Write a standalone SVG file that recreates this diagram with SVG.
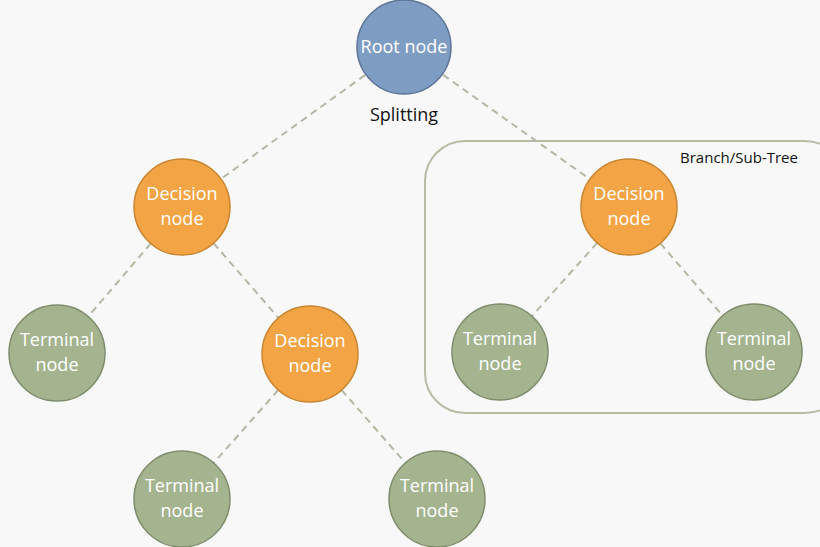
<svg xmlns="http://www.w3.org/2000/svg" width="820" height="547" viewBox="0 0 820 547">
<style>
.bg{fill:#f8f8f8}
.edge{stroke:#b3b9a6;stroke-width:2;stroke-dasharray:7 5;fill:none}
.root{fill:#7f9dc3;stroke:#5d7597;stroke-width:1.5}
.dec{fill:#f3a444;stroke:#c98530;stroke-width:1.5}
.term{fill:#a4b48f;stroke:#7f8d6c;stroke-width:1.5}
.lbl{font-family:"Open Sans","Liberation Sans",sans-serif;font-size:18px;fill:#ffffff;text-anchor:middle}
.txt{font-family:"Open Sans","Liberation Sans",sans-serif;fill:#111111}
</style>
<rect class="bg" x="0" y="0" width="820" height="547"/>
<g id="branch">
<rect x="425" y="141" width="420" height="272" rx="40" ry="40" fill="none" stroke="#b6bca8" stroke-width="2"/>
<text class="txt" x="739" y="163" font-size="15" text-anchor="middle">Branch/Sub-Tree</text>
</g>
<g id="connectors">
<line class="edge" x1="404" y1="47" x2="182" y2="207"/>
<line class="edge" x1="404" y1="47" x2="629" y2="207"/>
<line class="edge" x1="182" y1="207" x2="57" y2="353"/>
<line class="edge" x1="182" y1="207" x2="310" y2="354"/>
<line class="edge" x1="310" y1="354" x2="182" y2="499"/>
<line class="edge" x1="310" y1="354" x2="437" y2="499"/>
<line class="edge" x1="629" y1="207" x2="500" y2="352"/>
<line class="edge" x1="629" y1="207" x2="754" y2="352"/>
</g>
<g id="root">
<circle class="root" cx="404" cy="47" r="47"/>
<text class="lbl" x="404" y="53" font-size="17.5">Root node</text>
</g>
<text class="txt" x="404" y="121" font-size="18" text-anchor="middle">Splitting</text>
<g id="decision-left">
<circle class="dec" cx="182" cy="207" r="48"/>
<text class="lbl" x="182" y="200">Decision</text>
<text class="lbl" x="182" y="225">node</text>
</g>
<g id="terminal-1">
<circle class="term" cx="57" cy="353" r="48"/>
<text class="lbl" x="57" y="346">Terminal</text>
<text class="lbl" x="57" y="371">node</text>
</g>
<g id="decision-mid">
<circle class="dec" cx="310" cy="354" r="48"/>
<text class="lbl" x="310" y="347">Decision</text>
<text class="lbl" x="310" y="372">node</text>
</g>
<g id="terminal-2">
<circle class="term" cx="182" cy="499" r="48"/>
<text class="lbl" x="182" y="492">Terminal</text>
<text class="lbl" x="182" y="517">node</text>
</g>
<g id="terminal-3">
<circle class="term" cx="437" cy="499" r="48"/>
<text class="lbl" x="437" y="492">Terminal</text>
<text class="lbl" x="437" y="517">node</text>
</g>
<g id="decision-right">
<circle class="dec" cx="629" cy="207" r="48"/>
<text class="lbl" x="629" y="200">Decision</text>
<text class="lbl" x="629" y="225">node</text>
</g>
<g id="terminal-4">
<circle class="term" cx="500" cy="352" r="48"/>
<text class="lbl" x="500" y="345">Terminal</text>
<text class="lbl" x="500" y="370">node</text>
</g>
<g id="terminal-5">
<circle class="term" cx="754" cy="352" r="48"/>
<text class="lbl" x="754" y="345">Terminal</text>
<text class="lbl" x="754" y="370">node</text>
</g>
</svg>
